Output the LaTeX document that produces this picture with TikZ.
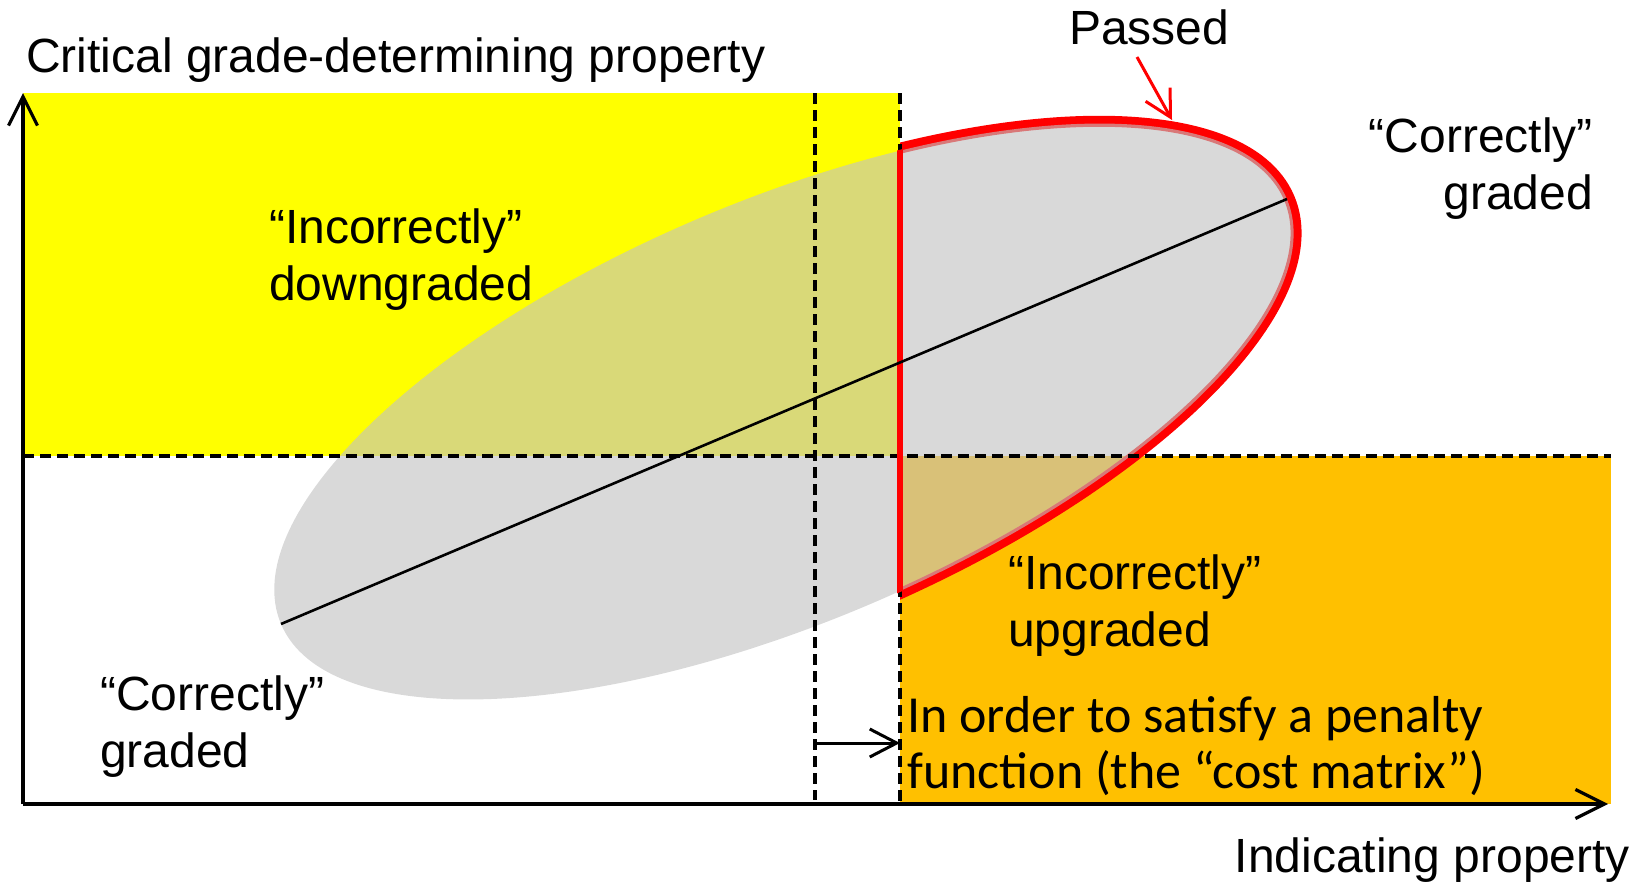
\documentclass[tikz,border=0pt]{standalone}
\usepackage{fontspec}
\setmainfont{Liberation Sans}
\newfontfamily\calib{Carlito}
\usetikzlibrary{arrows.meta}
\definecolor{ylw}{RGB}{255,255,0}
\definecolor{org}{RGB}{255,192,0}
\definecolor{ell}{RGB}{194,194,194}
\definecolor{pred}{RGB}{255,0,0}
\tikzset{
  lbl/.style={inner sep=0pt, font=\fontsize{48}{57}\selectfont},
  lblc/.style={inner sep=0pt, font=\calib\fontsize{52}{56}\selectfont},
  axisline/.style={line width=3.2pt, -{Straight Barb[length=29pt,width=29pt,line width=3.2pt]}},
  dashline/.style={line width=3.3pt, dash pattern=on 10.5pt off 6.5pt},
  redline/.style={pred, line width=11pt},
}
\begin{document}
\begin{tikzpicture}[x=1pt,y=-1pt]
\useasboundingbox (0,0) rectangle (1643,886);
% coordinates
\coordinate (O) at (23,804);
\coordinate (Ytop) at (23,93);
\coordinate (Xend) at (1608,804);
\coordinate (L) at (281,624);
\coordinate (R) at (1287,199);
\coordinate (C) at (784,411.5);
% regions
\fill[ylw] (23,93) rectangle (900,456);
\fill[org] (900,456) rectangle (1611,804);
% red boundary of passed region (curved part)
\begin{scope}
  \clip (900,0) rectangle (1643,886);
  \draw[redline, rotate around={22.9:(C)}] (C) ellipse [x radius=548.5pt, y radius=213.5pt];
\end{scope}
% gray ellipse
\fill[ell, fill opacity=0.62, rotate around={22.9:(C)}] (C) ellipse [x radius=546pt, y radius=211pt];
% dashed lines
\draw[dashline] (23,456) -- (1611,456);
\draw[dashline] (815,93) -- (815,800);
\draw[dashline] (900,93) -- (900,804);
% red vertical boundary
\begin{scope}
  \clip[rotate around={22.9:(C)}] (C) ellipse [x radius=547pt, y radius=212pt];
  \draw[pred, line width=6.5pt] (900,0) -- (900,886);
\end{scope}
% major axis
\draw[line width=2.6pt] (L) -- (R);
% axes
\draw[axisline] (O) -- (Ytop);
\draw[axisline] (O) -- (Xend);
% shift arrow
\coordinate (s1) at (815,743);
\coordinate (s2) at (900,743);
\draw[line width=3pt, -{Straight Barb[length=27pt,width=28pt,line width=3pt]}] (s1) -- (s2);
% Passed arrow
\node[lbl, anchor=base west] (passed) at (1069,44) {Passed};
\coordinate (p1) at (1137,57);
\coordinate (p2) at (1172,120);
\draw[pred, line width=3pt, -{Straight Barb[length=26pt,width=28pt,line width=3pt]}] (p1) -- (p2);
% texts
\node[lbl, anchor=base west] (ylab) at (26,72) {Critical grade-determining property};
\node[lbl, anchor=base east] (xlab) at (1630,872) {Indicating property};
\node[lbl, anchor=base east] (cg1) at (1593,152) {“Correctly”};
\node[lbl, anchor=base east] (cg2) at (1593,209) {graded};
\node[lbl, anchor=base west] (id1) at (269,243) {“Incorrectly”};
\node[lbl, anchor=base west] (id2) at (269,300) {downgraded};
\node[lbl, anchor=base west] (iu1) at (1008,589) {“Incorrectly”};
\node[lbl, anchor=base west] (iu2) at (1008,646) {upgraded};
\node[lbl, anchor=base west] (cl1) at (100,710) {“Correctly”};
\node[lbl, anchor=base west] (cl2) at (100,767) {graded};
\node[lblc, anchor=base west] (pf1) at (907,732) {In order to satisfy a penalty};
\node[lblc, anchor=base west] (pf2) at (907,788) {function (the “cost matrix”)};
\end{tikzpicture}
\end{document}
